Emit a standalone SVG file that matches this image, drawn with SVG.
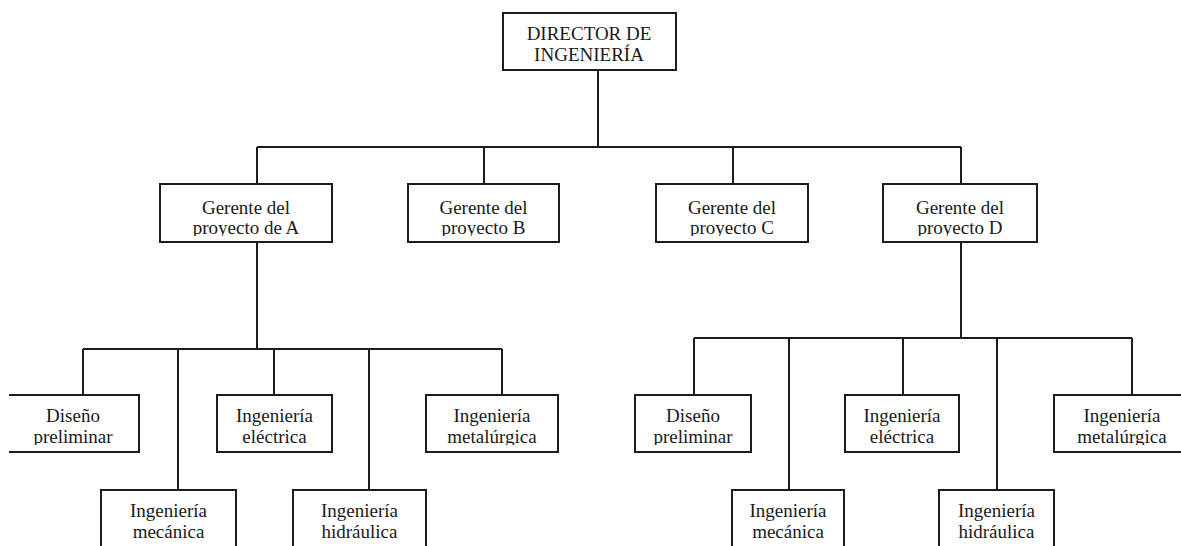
<svg xmlns="http://www.w3.org/2000/svg" width="1181" height="546" viewBox="0 0 1181 546">
  <style>
    .box { fill: #ffffff; stroke: #1c1c1c; stroke-width: 2; }
    .wire { fill: none; stroke: #1c1c1c; stroke-width: 2; }
    text { font-family: "Liberation Serif", "Times New Roman", serif; font-size: 19px; fill: #1a1a1a; text-anchor: middle; }
  </style>
  <defs>
    <!-- text frames cut off the descenders of the second line -->
    <clipPath id="frameMgr" clipPathUnits="userSpaceOnUse"><rect x="0" y="150" width="1181" height="86"/></clipPath>
    <clipPath id="frameDept" clipPathUnits="userSpaceOnUse"><rect x="0" y="380" width="1181" height="65"/></clipPath>
  </defs>
  <rect width="1181" height="546" fill="#ffffff"/>

  <g id="connectors">
    <path class="wire" d="M598,70 V147 M257,147 H961 M257,147 V184 M484,147 V184 M733,147 V184 M961,147 V184"/>
    <path class="wire" d="M257,242 V349 M83,349 H502 M83,349 V395 M178,349 V490 M274,349 V395 M369,349 V490 M502,349 V395"/>
    <path class="wire" d="M961,242 V338 M694,338 H1132 M694,338 V395 M789,338 V490 M903,338 V395 M997,338 V490 M1132,338 V395"/>
  </g>

  <g id="director">
    <rect class="box" x="503" y="13" width="173" height="57"/>
    <text x="589" y="40">DIRECTOR DE</text>
    <text x="589" y="61">INGENIERÍA</text>
  </g>

  <g id="gerente-a">
    <rect class="box" x="160" y="184" width="172" height="58"/>
    <g clip-path="url(#frameMgr)"><text x="246" y="214">Gerente del</text><text x="246" y="234">proyecto de A</text></g>
  </g>
  <g id="gerente-b">
    <rect class="box" x="408" y="184" width="151" height="58"/>
    <g clip-path="url(#frameMgr)"><text x="483.5" y="214">Gerente del</text><text x="483.5" y="234">proyecto B</text></g>
  </g>
  <g id="gerente-c">
    <rect class="box" x="656" y="184" width="152" height="58"/>
    <g clip-path="url(#frameMgr)"><text x="732" y="214">Gerente del</text><text x="732" y="234">proyecto C</text></g>
  </g>
  <g id="gerente-d">
    <rect class="box" x="883" y="184" width="154" height="58"/>
    <g clip-path="url(#frameMgr)"><text x="960" y="214">Gerente del</text><text x="960" y="234">proyecto D</text></g>
  </g>

  <!-- departments under project A -->
  <g id="a-diseno">
    <path class="box" d="M9,395 H139 V452 H9"/>
    <g clip-path="url(#frameDept)"><text x="73" y="422">Diseño</text><text x="73" y="443">preliminar</text></g>
  </g>
  <g id="a-mecanica">
    <rect class="box" x="101" y="490" width="135" height="70"/>
    <text x="168.5" y="517">Ingeniería</text><text x="168.5" y="538">mecánica</text>
  </g>
  <g id="a-electrica">
    <rect class="box" x="217" y="395" width="115" height="57"/>
    <g clip-path="url(#frameDept)"><text x="274.5" y="422">Ingeniería</text><text x="274.5" y="443">eléctrica</text></g>
  </g>
  <g id="a-hidraulica">
    <rect class="box" x="293" y="490" width="133" height="70"/>
    <text x="359.5" y="517">Ingeniería</text><text x="359.5" y="538">hidráulica</text>
  </g>
  <g id="a-metalurgica">
    <rect class="box" x="426" y="395" width="132" height="57"/>
    <g clip-path="url(#frameDept)"><text x="492" y="422">Ingeniería</text><text x="492" y="443">metalúrgica</text></g>
  </g>

  <!-- departments under project D -->
  <g id="d-diseno">
    <rect class="box" x="635" y="395" width="116" height="57"/>
    <g clip-path="url(#frameDept)"><text x="693" y="422">Diseño</text><text x="693" y="443">preliminar</text></g>
  </g>
  <g id="d-mecanica">
    <rect class="box" x="732" y="490" width="112" height="70"/>
    <text x="788" y="517">Ingeniería</text><text x="788" y="538">mecánica</text>
  </g>
  <g id="d-electrica">
    <rect class="box" x="845" y="395" width="114" height="57"/>
    <g clip-path="url(#frameDept)"><text x="902" y="422">Ingeniería</text><text x="902" y="443">eléctrica</text></g>
  </g>
  <g id="d-hidraulica">
    <rect class="box" x="939" y="490" width="115" height="70"/>
    <text x="996.5" y="517">Ingeniería</text><text x="996.5" y="538">hidráulica</text>
  </g>
  <g id="d-metalurgica">
    <rect class="box" x="1054" y="395" width="140" height="57"/>
    <g clip-path="url(#frameDept)"><text x="1122" y="422">Ingeniería</text><text x="1122" y="443">metalúrgica</text></g>
  </g>
</svg>
